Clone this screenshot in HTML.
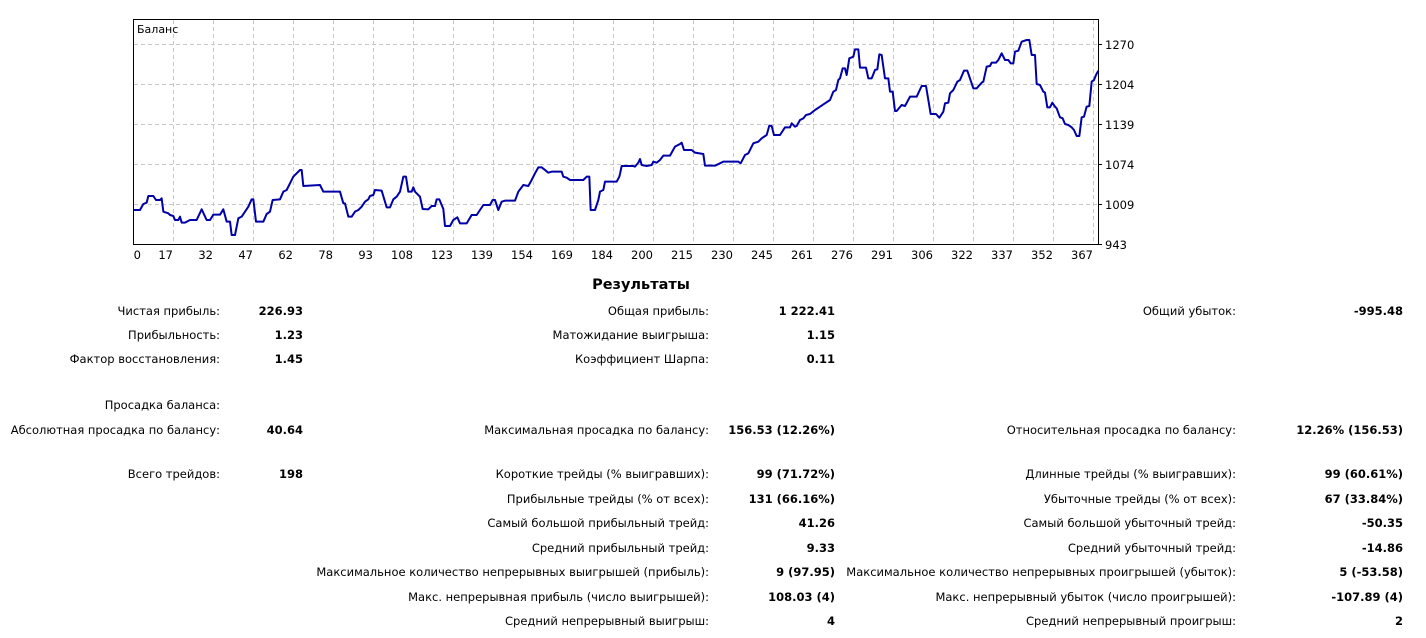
<!DOCTYPE html>
<html><head><meta charset="utf-8"><style>
body{margin:0;width:1426px;height:638px;background:#fff;position:relative;overflow:hidden;font-family:"DejaVu Sans","Liberation Sans",sans-serif;font-size:11.5px;color:#000}
.t{position:absolute;white-space:nowrap;line-height:14px}
.l{text-align:right}
.b{font-weight:bold}
</style></head><body>
<svg width="1426" height="270" style="position:absolute;left:0;top:0" font-family="DejaVu Sans, Liberation Sans, sans-serif" font-size="11.5">
<g stroke="#c8c8c8" stroke-dasharray="4,3" stroke-width="1">
<line x1="134" x2="1098" y1="44.5" y2="44.5"/><line x1="134" x2="1098" y1="84.5" y2="84.5"/><line x1="134" x2="1098" y1="124.5" y2="124.5"/><line x1="134" x2="1098" y1="164.5" y2="164.5"/><line x1="134" x2="1098" y1="204.5" y2="204.5"/>
<line x1="173.5" x2="173.5" y1="20" y2="244"/><line x1="213.5" x2="213.5" y1="20" y2="244"/><line x1="253.5" x2="253.5" y1="20" y2="244"/><line x1="293.5" x2="293.5" y1="20" y2="244"/><line x1="333.5" x2="333.5" y1="20" y2="244"/><line x1="373.5" x2="373.5" y1="20" y2="244"/><line x1="413.5" x2="413.5" y1="20" y2="244"/><line x1="453.5" x2="453.5" y1="20" y2="244"/><line x1="493.5" x2="493.5" y1="20" y2="244"/><line x1="533.5" x2="533.5" y1="20" y2="244"/><line x1="573.5" x2="573.5" y1="20" y2="244"/><line x1="613.5" x2="613.5" y1="20" y2="244"/><line x1="653.5" x2="653.5" y1="20" y2="244"/><line x1="693.5" x2="693.5" y1="20" y2="244"/><line x1="733.5" x2="733.5" y1="20" y2="244"/><line x1="773.5" x2="773.5" y1="20" y2="244"/><line x1="813.5" x2="813.5" y1="20" y2="244"/><line x1="853.5" x2="853.5" y1="20" y2="244"/><line x1="893.5" x2="893.5" y1="20" y2="244"/><line x1="933.5" x2="933.5" y1="20" y2="244"/><line x1="973.5" x2="973.5" y1="20" y2="244"/><line x1="1013.5" x2="1013.5" y1="20" y2="244"/><line x1="1053.5" x2="1053.5" y1="20" y2="244"/><line x1="1093.5" x2="1093.5" y1="20" y2="244"/>
</g>
<rect x="133.5" y="19.5" width="965" height="225" fill="none" stroke="#000" stroke-width="1"/>
<g stroke="#000"><line x1="1099" x2="1102" y1="44.5" y2="44.5"/><line x1="1099" x2="1102" y1="84.5" y2="84.5"/><line x1="1099" x2="1102" y1="124.5" y2="124.5"/><line x1="1099" x2="1102" y1="164.5" y2="164.5"/><line x1="1099" x2="1102" y1="204.5" y2="204.5"/><line x1="1099" x2="1102" y1="244.5" y2="244.5"/></g>
<text x="137" y="33" font-size="11">Баланс</text>
<g fill="#000"><text x="1105" y="49">1270</text><text x="1105" y="89">1204</text><text x="1105" y="129">1139</text><text x="1105" y="169">1074</text><text x="1105" y="209">1009</text><text x="1105" y="249">943</text></g>
<g text-anchor="end" fill="#000">
<text x="141" y="259">0</text><text x="173" y="259">17</text><text x="213" y="259">32</text><text x="253" y="259">47</text><text x="293" y="259">62</text><text x="333" y="259">78</text><text x="373" y="259">93</text><text x="413" y="259">108</text><text x="453" y="259">123</text><text x="493" y="259">139</text><text x="533" y="259">154</text><text x="573" y="259">169</text><text x="613" y="259">184</text><text x="653" y="259">200</text><text x="693" y="259">215</text><text x="733" y="259">230</text><text x="773" y="259">245</text><text x="813" y="259">261</text><text x="853" y="259">276</text><text x="893" y="259">291</text><text x="933" y="259">306</text><text x="973" y="259">322</text><text x="1013" y="259">337</text><text x="1053" y="259">352</text><text x="1093" y="259">367</text>
</g>
<g fill="none" stroke="#0000a8" stroke-width="6" stroke-linejoin="round">
<polyline transform="translate(130,10) scale(0.33333)" points="10,600 30,600 40,582 50,578 55,558 70,558 78,570 90,570 95,565 100,605 115,610 120,615 130,618 135,630 145,630 150,620 155,638 165,638 180,630 200,630 215,598 230,630 240,630 250,614 270,614 280,598 290,635 300,635 305,675 315,675 325,625 335,620 345,605 355,590 365,568 370,568 378,635 400,635 410,612 420,605 428,570 450,568 460,545 470,540 480,520 490,500 500,490 510,480 515,480 520,528 570,525 580,545 630,545 640,580 645,580 655,620 665,620 675,605 685,600 695,590 705,575 715,568 720,558 730,555 735,540 755,542 770,592 780,592 790,568 800,560 810,545 820,500 828,500 835,545 845,545 850,532 855,545 870,560 878,597 895,598 905,588 915,588 920,568 928,568 940,597 945,648 960,648 970,630 982,622 990,640 1010,640 1025,615 1040,615 1050,600 1060,585 1080,585 1088,570 1095,570 1105,600 1115,575 1125,572 1155,572 1165,545 1180,525 1195,528 1205,510 1215,490 1225,472 1235,472 1255,488 1265,485 1295,485 1300,500 1310,503 1320,510 1360,510 1370,500 1378,500 1382,600 1395,600 1405,570 1410,545 1420,540 1425,515 1460,515 1468,500 1470,492"/>
<polyline transform="translate(620,10) scale(0.33333)" points="0,492 5,468 40,468 45,470 55,458 60,447 65,465 80,468 95,465 100,455 110,458 120,450 130,437 150,437 165,410 180,402 185,398 192,420 215,420 225,428 250,432 255,467 285,467 300,460 310,455 355,455 362,460 375,435 385,430 400,400 415,395 425,385 440,375 448,347 455,348 462,375 480,375 495,352 510,352 515,340 525,350 530,348 540,330 550,325 558,315 570,312 585,300 600,290 615,280 630,270 640,245 648,240 655,210 660,205 668,175 675,175 680,195 688,145 700,140 705,118 715,118 720,173 738,173 745,205 755,205 765,180 772,178 778,133 785,135 795,205 805,205 810,245 818,245 825,303 830,303 845,285 855,288 870,260 890,260 905,228 918,228 932,312 948,312 958,323 970,305 975,280 985,278 990,250 1000,240 1012,215 1020,210 1032,182 1042,182 1060,235 1070,235 1085,218 1090,215 1100,170 1110,168 1115,158 1128,158 1135,150 1145,130 1155,150 1165,150 1172,160 1180,160 1185,125 1195,122 1205,95 1220,90 1228,90 1235,135 1245,135 1250,222 1260,225 1270,245 1275,248 1282,292 1290,292 1297,278 1305,290 1310,295 1320,322 1328,325 1335,342 1345,345 1355,352 1362,360 1370,378 1378,378 1385,322 1392,320 1400,290 1408,288 1415,215 1422,210 1428,195 1435,182"/>
</g>
</svg>
<div class="t b" style="left:541px;width:200px;text-align:center;top:276px;font-size:14.5px;line-height:18px">Результаты</div>

<div class="t l" style="right:1206px;top:304px">Чистая прибыль:</div><div class="t l b" style="right:1123px;top:304px">226.93</div>
<div class="t l" style="right:1206px;top:328px">Прибыльность:</div><div class="t l b" style="right:1123px;top:328px">1.23</div>
<div class="t l" style="right:1206px;top:352px">Фактор восстановления:</div><div class="t l b" style="right:1123px;top:352px">1.45</div>
<div class="t l" style="right:1206px;top:398px">Просадка баланса:</div>
<div class="t l" style="right:1206px;top:423px">Абсолютная просадка по балансу:</div><div class="t l b" style="right:1123px;top:423px">40.64</div>
<div class="t l" style="right:1206px;top:467px">Всего трейдов:</div><div class="t l b" style="right:1123px;top:467px">198</div>

<div class="t l" style="right:717px;top:304px">Общая прибыль:</div><div class="t l b" style="right:591px;top:304px">1 222.41</div>
<div class="t l" style="right:717px;top:328px">Матожидание выигрыша:</div><div class="t l b" style="right:591px;top:328px">1.15</div>
<div class="t l" style="right:717px;top:352px">Коэффициент Шарпа:</div><div class="t l b" style="right:591px;top:352px">0.11</div>
<div class="t l" style="right:717px;top:423px">Максимальная просадка по балансу:</div><div class="t l b" style="right:591px;top:423px">156.53 (12.26%)</div>
<div class="t l" style="right:717px;top:467px">Короткие трейды (% выигравших):</div><div class="t l b" style="right:591px;top:467px">99 (71.72%)</div>
<div class="t l" style="right:717px;top:492px">Прибыльные трейды (% от всех):</div><div class="t l b" style="right:591px;top:492px">131 (66.16%)</div>
<div class="t l" style="right:717px;top:516px">Самый большой прибыльный трейд:</div><div class="t l b" style="right:591px;top:516px">41.26</div>
<div class="t l" style="right:717px;top:541px">Средний прибыльный трейд:</div><div class="t l b" style="right:591px;top:541px">9.33</div>
<div class="t l" style="right:717px;top:565px">Максимальное количество непрерывных выигрышей (прибыль):</div><div class="t l b" style="right:591px;top:565px">9 (97.95)</div>
<div class="t l" style="right:717px;top:590px">Макс. непрерывная прибыль (число выигрышей):</div><div class="t l b" style="right:591px;top:590px">108.03 (4)</div>
<div class="t l" style="right:717px;top:614px">Средний непрерывный выигрыш:</div><div class="t l b" style="right:591px;top:614px">4</div>

<div class="t l" style="right:190px;top:304px">Общий убыток:</div><div class="t l b" style="right:23px;top:304px">-995.48</div>
<div class="t l" style="right:190px;top:423px">Относительная просадка по балансу:</div><div class="t l b" style="right:23px;top:423px">12.26% (156.53)</div>
<div class="t l" style="right:190px;top:467px">Длинные трейды (% выигравших):</div><div class="t l b" style="right:23px;top:467px">99 (60.61%)</div>
<div class="t l" style="right:190px;top:492px">Убыточные трейды (% от всех):</div><div class="t l b" style="right:23px;top:492px">67 (33.84%)</div>
<div class="t l" style="right:190px;top:516px">Самый большой убыточный трейд:</div><div class="t l b" style="right:23px;top:516px">-50.35</div>
<div class="t l" style="right:190px;top:541px">Средний убыточный трейд:</div><div class="t l b" style="right:23px;top:541px">-14.86</div>
<div class="t l" style="right:190px;top:565px">Максимальное количество непрерывных проигрышей (убыток):</div><div class="t l b" style="right:23px;top:565px">5 (-53.58)</div>
<div class="t l" style="right:190px;top:590px">Макс. непрерывный убыток (число проигрышей):</div><div class="t l b" style="right:23px;top:590px">-107.89 (4)</div>
<div class="t l" style="right:190px;top:614px">Средний непрерывный проигрыш:</div><div class="t l b" style="right:23px;top:614px">2</div>
</body></html>
